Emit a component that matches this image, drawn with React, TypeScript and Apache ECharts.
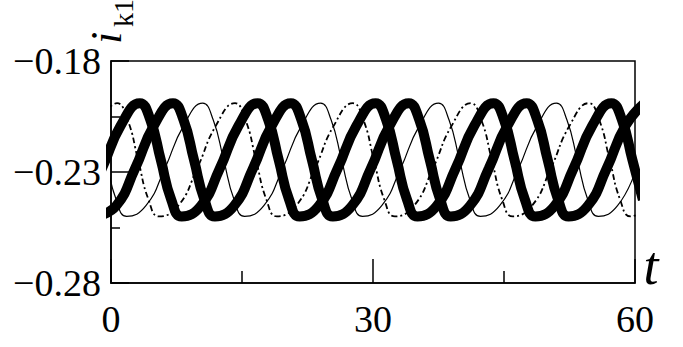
import React, { useEffect, useRef } from "react";
import * as echarts from "echarts";

const xTicks = [0, 30, 60];
const yTicks = [-0.28, -0.23, -0.18];

const curveA: number[][] = [[-3.2,-0.2452],[-1.05,-0.2285],[1.1,-0.2092],[3.3,-0.199],[4.5,-0.2065],[5.7,-0.2245],[6.9,-0.2425],[8.1,-0.25],[10.3,-0.2452],[12.45,-0.2285],[14.6,-0.2092],[16.8,-0.199],[18.0,-0.2065],[19.2,-0.2245],[20.4,-0.2425],[21.6,-0.25],[23.8,-0.2452],[25.95,-0.2285],[28.1,-0.2092],[30.3,-0.199],[31.5,-0.2065],[32.7,-0.2245],[33.9,-0.2425],[35.1,-0.25],[37.3,-0.2452],[39.45,-0.2285],[41.6,-0.2092],[43.8,-0.199],[45.0,-0.2065],[46.2,-0.2245],[47.4,-0.2425],[48.6,-0.25],[50.8,-0.2452],[52.95,-0.2285],[55.1,-0.2092],[57.3,-0.199],[58.5,-0.2065],[59.7,-0.2245],[60.9,-0.2425]];

const curveB: number[][] = [[-1.6,-0.25],[0.6,-0.2452],[2.75,-0.2285],[4.9,-0.2092],[7.1,-0.199],[8.3,-0.2065],[9.5,-0.2245],[10.7,-0.2425],[11.9,-0.25],[14.1,-0.2452],[16.25,-0.2285],[18.4,-0.2092],[20.6,-0.199],[21.8,-0.2065],[23.0,-0.2245],[24.2,-0.2425],[25.4,-0.25],[27.6,-0.2452],[29.75,-0.2285],[31.9,-0.2092],[34.1,-0.199],[35.3,-0.2065],[36.5,-0.2245],[37.7,-0.2425],[38.9,-0.25],[41.1,-0.2452],[43.25,-0.2285],[45.4,-0.2092],[47.6,-0.199],[48.8,-0.2065],[50.0,-0.2245],[51.2,-0.2425],[52.4,-0.25],[54.6,-0.2452],[56.75,-0.2285],[58.9,-0.2092],[61.1,-0.199]];

const curveC: number[][] = [[-3.0,-0.199],[-1.8,-0.2065],[-0.6,-0.2245],[0.6,-0.2425],[1.8,-0.25],[4.0,-0.2452],[6.15,-0.2285],[8.3,-0.2092],[10.5,-0.199],[11.7,-0.2065],[12.9,-0.2245],[14.1,-0.2425],[15.3,-0.25],[17.5,-0.2452],[19.65,-0.2285],[21.8,-0.2092],[24.0,-0.199],[25.2,-0.2065],[26.4,-0.2245],[27.6,-0.2425],[28.8,-0.25],[31.0,-0.2452],[33.15,-0.2285],[35.3,-0.2092],[37.5,-0.199],[38.7,-0.2065],[39.9,-0.2245],[41.1,-0.2425],[42.3,-0.25],[44.5,-0.2452],[46.65,-0.2285],[48.8,-0.2092],[51.0,-0.199],[52.2,-0.2065],[53.4,-0.2245],[54.6,-0.2425],[55.8,-0.25],[58.0,-0.2452],[60.15,-0.2285]];

const curveD: number[][] = [[-1.5,-0.2092],[0.7,-0.199],[1.9,-0.2065],[3.1,-0.2245],[4.3,-0.2425],[5.5,-0.25],[7.7,-0.2452],[9.85,-0.2285],[12.0,-0.2092],[14.2,-0.199],[15.4,-0.2065],[16.6,-0.2245],[17.8,-0.2425],[19.0,-0.25],[21.2,-0.2452],[23.35,-0.2285],[25.5,-0.2092],[27.7,-0.199],[28.9,-0.2065],[30.1,-0.2245],[31.3,-0.2425],[32.5,-0.25],[34.7,-0.2452],[36.85,-0.2285],[39.0,-0.2092],[41.2,-0.199],[42.4,-0.2065],[43.6,-0.2245],[44.8,-0.2425],[46.0,-0.25],[48.2,-0.2452],[50.35,-0.2285],[52.5,-0.2092],[54.7,-0.199],[55.9,-0.2065],[57.1,-0.2245],[58.3,-0.2425],[59.5,-0.25],[61.7,-0.2452]];

const FONT = "'Liberation Serif', 'DejaVu Serif', serif";

export default function App() {
  const ref = useRef<HTMLDivElement>(null);
  useEffect(() => {
    if (!ref.current) return;
    const chart = echarts.init(ref.current, null, { renderer: "svg" });
    const fmt = (v: number) => {
      const r = Math.round(v * 100) / 100;
      return (r < 0 ? "\u2212" : "") + Math.abs(r).toFixed(2);
    };
    const thick = { color: "#000", width: 10 };
    chart.setOption({
      animation: false,
      backgroundColor: "#fff",
      grid: {
        left: 111, right: 48, top: 61, bottom: 64,
        show: true, borderColor: "#000", borderWidth: 1.5, backgroundColor: "transparent",
      },
      xAxis: {
        type: "value", min: xTicks[0], max: xTicks[2], interval: 30,
        axisLine: { show: true, onZero: false, lineStyle: { color: "#000", width: 1.5 } },
        axisTick: { show: true, inside: true, length: 24, lineStyle: { color: "#000", width: 1.5 } },
        minorTick: { show: true, splitNumber: 2, length: 12, lineStyle: { color: "#000", width: 1.5 } },
        splitLine: { show: false },
        axisLabel: { color: "#000", fontFamily: FONT, fontSize: 38, margin: 17 },
      },
      yAxis: {
        type: "value", min: yTicks[0], max: yTicks[2], interval: 0.05,
        axisLine: { show: true, onZero: false, lineStyle: { color: "#000", width: 1.5 } },
        axisTick: { show: true, inside: true, length: 18, lineStyle: { color: "#000", width: 1.5 } },
        minorTick: { show: true, splitNumber: 2, length: 9, lineStyle: { color: "#000", width: 1.5 } },
        splitLine: { show: false },
        axisLabel: { color: "#000", fontFamily: FONT, fontSize: 38, margin: 10, padding: [0, 0, 6, 0], formatter: fmt },
      },
      graphic: [
        { type: "text", x: 106, y: 38, rotation: Math.PI / 2,
          style: { text: "i", fontFamily: FONT, fontSize: 44, fontStyle: "italic", fill: "#000", align: "center", verticalAlign: "middle" } },
        { type: "text", x: 123, y: 13, rotation: Math.PI / 2,
          style: { text: "k1", fontFamily: FONT, fontSize: 28, fill: "#000", align: "center", verticalAlign: "middle" } },
        { type: "text", x: 651, y: 266,
          style: { text: "t", fontFamily: FONT, fontSize: 54, fontStyle: "italic", fill: "#000", align: "center", verticalAlign: "middle" } },
      ],
      series: [
        { type: "line", data: curveC, smooth: 0.5, symbol: "none", clip: true, lineStyle: { color: "#000", width: 1.2 } },
        { type: "line", data: curveD, smooth: 0.5, symbol: "none", clip: true, lineStyle: { color: "#000", width: 1.8, type: [6, 3, 2, 3] } },
        { type: "line", data: curveA, smooth: 0.5, symbol: "none", clip: true, lineStyle: thick },
        { type: "line", data: curveB, smooth: 0.5, symbol: "none", clip: true, lineStyle: thick },
      ],
    });
    return () => chart.dispose();
  }, []);
  return <div ref={ref} style={{ position: "absolute", left: 0, top: 0, width: 683, height: 347 }} />;
}
